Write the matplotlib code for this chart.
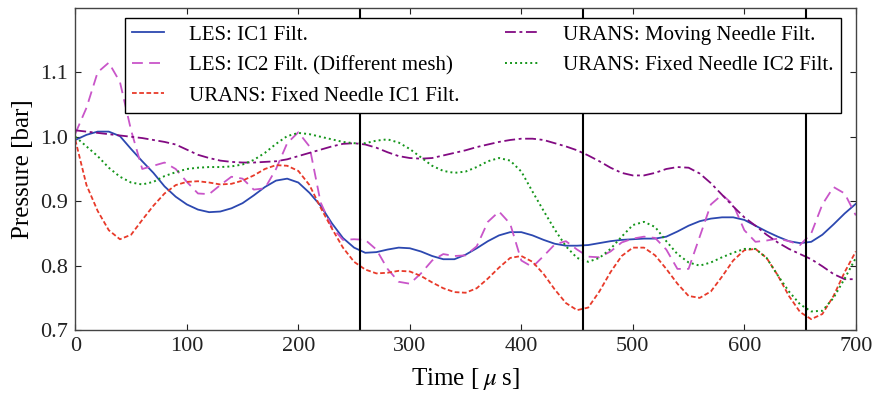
import matplotlib
matplotlib.use("Agg")
import matplotlib.pyplot as plt
import numpy as np

plt.rcParams['font.family'] = ['Liberation Serif', 'DejaVu Serif']
plt.rcParams['mathtext.fontset'] = 'stix'

# time axis [us], sampled every 10 us
t = np.arange(0, 701, 10)

les_ic1 = [0.995, 1.003, 1.008, 1.008, 1.001, 0.981, 0.962, 0.944, 0.923, 0.907,
           0.895, 0.887, 0.883, 0.884, 0.889, 0.897, 0.909, 0.922, 0.932, 0.935,
           0.929, 0.913, 0.893, 0.866, 0.843, 0.828, 0.820, 0.821, 0.825, 0.828,
           0.827, 0.822, 0.815, 0.810, 0.810, 0.817, 0.827, 0.838, 0.847, 0.852,
           0.852, 0.847, 0.840, 0.834, 0.831, 0.831, 0.832, 0.835, 0.838, 0.840,
           0.841, 0.842, 0.842, 0.845, 0.853, 0.862, 0.869, 0.873, 0.875, 0.875,
           0.871, 0.862, 0.853, 0.845, 0.838, 0.835, 0.837, 0.848, 0.864, 0.881,
           0.896]

les_ic2 = [1.005, 1.045, 1.100, 1.115, 1.085, 1.010, 0.950, 0.955, 0.960, 0.950,
           0.930, 0.912, 0.911, 0.925, 0.938, 0.935, 0.918, 0.920, 0.950, 0.990,
           1.007, 0.985, 0.898, 0.860, 0.840, 0.841, 0.840, 0.825, 0.795, 0.775,
           0.772, 0.788, 0.808, 0.818, 0.815, 0.816, 0.830, 0.868, 0.884, 0.865,
           0.808, 0.798, 0.815, 0.833, 0.838, 0.825, 0.814, 0.813, 0.822, 0.836,
           0.842, 0.845, 0.843, 0.825, 0.795, 0.795, 0.845, 0.895, 0.910, 0.895,
           0.855, 0.837, 0.839, 0.842, 0.838, 0.832, 0.850, 0.895, 0.922, 0.912,
           0.878]

urans_fixed_ic1 = [0.995, 0.925, 0.885, 0.855, 0.841, 0.848, 0.871, 0.893, 0.912, 0.925,
                   0.930, 0.931, 0.929, 0.926, 0.927, 0.932, 0.940, 0.950, 0.956, 0.955,
                   0.947, 0.925, 0.890, 0.858, 0.828, 0.806, 0.794, 0.788, 0.789, 0.792,
                   0.791, 0.784, 0.774, 0.765, 0.759, 0.758, 0.765, 0.780, 0.797, 0.812,
                   0.815, 0.806, 0.787, 0.763, 0.742, 0.731, 0.735, 0.760, 0.790, 0.815,
                   0.828, 0.828, 0.816, 0.795, 0.772, 0.753, 0.750, 0.760, 0.783, 0.808,
                   0.824, 0.826, 0.812, 0.785, 0.753, 0.728, 0.717, 0.725, 0.753, 0.790,
                   0.822]

urans_moving = [1.010, 1.008, 1.006, 1.004, 1.002, 1.000, 0.998, 0.995, 0.992, 0.988,
                0.980, 0.972, 0.967, 0.963, 0.961, 0.960, 0.960, 0.961, 0.962, 0.965,
                0.970, 0.975, 0.980, 0.985, 0.989, 0.990, 0.988, 0.983, 0.976, 0.970,
                0.967, 0.966, 0.967, 0.971, 0.975, 0.979, 0.984, 0.988, 0.992, 0.995,
                0.997, 0.997, 0.995, 0.990, 0.985, 0.979, 0.971, 0.962, 0.952, 0.944,
                0.940, 0.940, 0.944, 0.950, 0.953, 0.952, 0.943, 0.928, 0.910, 0.892,
                0.875, 0.862, 0.848, 0.836, 0.826, 0.818, 0.810, 0.799, 0.787, 0.779,
                0.779]

urans_fixed_ic2 = [1.000, 0.985, 0.970, 0.952, 0.938, 0.929, 0.926, 0.930, 0.939, 0.945,
                   0.950, 0.952, 0.953, 0.953, 0.954, 0.957, 0.964, 0.975, 0.989, 1.001,
                   1.006, 1.004, 1.000, 0.996, 0.992, 0.990, 0.990, 0.994, 0.996, 0.991,
                   0.981, 0.968, 0.955, 0.947, 0.944, 0.946, 0.953, 0.962, 0.967, 0.963,
                   0.946, 0.915, 0.885, 0.856, 0.830, 0.812, 0.806, 0.812, 0.826, 0.845,
                   0.863, 0.868, 0.860, 0.838, 0.818, 0.805, 0.800, 0.805, 0.813, 0.820,
                   0.826, 0.826, 0.812, 0.785, 0.760, 0.740, 0.729, 0.730, 0.750, 0.780,
                   0.812]

markers_t = [255, 455, 655]

fig = plt.figure(figsize=(8.74, 3.93), dpi=100)
ax = fig.add_axes([0.0862, 0.160, 0.893, 0.820])

ax.plot(t, les_ic1, color='#2c48b0', lw=1.3, label='LES: IC1 Filt.')
ax.plot(t, les_ic2, color='#c955c9', lw=1.3, dashes=(6, 3.5), label='LES: IC2 Filt. (Different mesh)')
ax.plot(t, urans_fixed_ic1, color='#e83a2a', lw=1.3, dashes=(2.6, 1.4), label='URANS: Fixed Needle IC1 Filt.')
ax.plot(t, urans_moving, color='#820a82', lw=1.3, dashes=(6, 2, 1.6, 2), label='URANS: Moving Needle Filt.')
ax.plot(t, urans_fixed_ic2, color='#14951a', lw=1.4, dashes=(1, 1.6), label='URANS: Fixed Needle IC2 Filt.')

for xv in markers_t:
    ax.axvline(xv, color='black', lw=1.5)

ax.set_xlim(0, 700)
ax.set_ylim(0.7, 1.2)
ax.set_xticks(np.arange(0, 701, 100))
ax.set_yticks([0.7, 0.8, 0.9, 1.0, 1.1])
ax.set_yticklabels(['0.7', '0.8', '0.9', '1.0', '1.1'])
ax.tick_params(direction='in', top=True, right=True, length=4, labelsize=16,
               colors='#222222', pad=5)
for s in ax.spines.values():
    s.set_color('#444444')
    s.set_linewidth(1.0)

ax.set_xlabel(r'Time [$\;\mu\;$s]', fontsize=18, labelpad=7)
ax.set_ylabel('Pressure [bar]', fontsize=18, labelpad=5)

leg = ax.legend(ncol=2, loc='upper left', bbox_to_anchor=(0.063, 0.969),
                borderaxespad=0, fontsize=15, fancybox=False, edgecolor='black',
                framealpha=1, handlelength=1.55, handletextpad=1.2,
                labelspacing=0.52, borderpad=0.35, columnspacing=2.2)
leg.get_frame().set_linewidth(1.0)

fig.savefig('out.png', dpi=100)
